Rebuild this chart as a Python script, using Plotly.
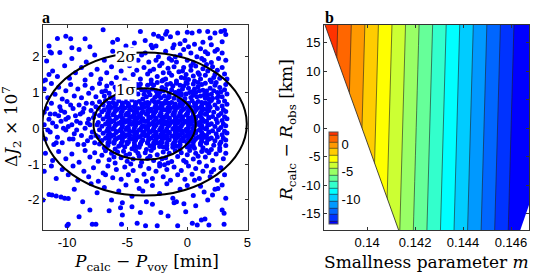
import plotly.graph_objects as go

# ---------------- Panel a: samples (P_calc - P_voy [min], dJ2 x 1e7) ----------------
top_pts = [(-10.8,2.51),(-10.1,2.57),(-9.7,2.50),(-8.5,2.50),(-7.0,2.75),(-6.2,2.40),(-5.8,2.48),(-4.4,2.38),
           (-3.9,2.70),(-3.5,2.45),(-2.8,2.63),(-2.4,2.57),(-2.1,2.51),(-1.8,2.63),(-1.7,2.70),(-1.4,2.56),
           (-0.8,2.66),(-0.6,2.36),(0.0,2.68),(0.4,2.66),(1.0,2.71),(1.7,2.70),(2.3,2.66),(2.8,2.70),
           (3.1,2.73),(3.2,2.62),(-11.5,2.30),(-8.1,2.28),(-5.1,2.30),(-3.0,2.32),(1.3,2.40),(2.0,2.33),
           (2.9,2.42),(0.6,2.35),(-0.2,2.45),(-1.1,2.33),(-2.6,2.30),(1.9,2.52),(-9.6,2.25),(-11.4,2.13)]

upper_pts = [(-11.3,2.10),(-10.6,2.12),(-9.6,1.95),(-9.0,2.20),(-8.4,1.85),(-7.7,2.05),(-6.9,1.90),(-6.2,2.15),
             (-5.6,1.88),(-5.0,2.02),(-4.6,2.20),(-4.1,1.90),(-3.5,2.10),(-3.2,1.85),(-2.9,2.25),(-2.4,2.00),
             (-2.1,1.82),(-1.8,2.15),(-1.5,1.95),(-1.2,2.25),(-0.9,1.85),(-0.6,2.05),(-0.3,2.20),(0.0,1.90),
             (0.3,2.10),(0.5,1.83),(0.8,2.00),(1.1,2.22),(1.4,1.90),(1.7,2.08),(2.0,1.84),(2.3,2.15),
             (2.6,1.95),(2.9,2.10),(3.2,1.90),(-1.0,2.00),(-2.6,1.90),(0.1,2.28),(1.5,2.14),(-3.8,2.05),
             (-11.7,1.88),(0.3,1.75),(1.2,1.95),(2.5,2.20),(-1.3,1.90)]

mid_pts = [(-11.8,1.35),(-11.2,1.60),(-10.8,1.45),(-10.2,1.75),(-9.8,1.40),(-9.3,1.55),(-8.8,1.70),(-8.5,1.35),
           (-8.0,1.50),(-7.5,1.65),(-7.2,1.38),(-6.7,1.55),(-6.3,1.72),(-5.9,1.42),(-5.5,1.60),(-5.2,1.35),
           (-4.8,1.75),(-4.5,1.50),(-4.2,1.62),(-3.9,1.38),(-3.6,1.70),(-3.3,1.52),(-3.0,1.35),(-2.8,1.65),
           (-2.5,1.45),(-2.3,1.75),(-2.0,1.55),(-1.8,1.38),(-1.6,1.68),(-1.3,1.48),(-1.1,1.72),(-0.9,1.32),
           (-0.7,1.58),(-0.5,1.42),(-0.3,1.70),(-0.1,1.50),(0.1,1.36),(0.3,1.62),(0.5,1.46),(0.7,1.74),
           (0.9,1.55),(1.1,1.38),(1.3,1.66),(1.5,1.48),(1.7,1.60),(1.9,1.35),(2.1,1.72),(2.3,1.50),
           (2.5,1.62),(2.7,1.40),(2.9,1.70),(3.1,1.52),(3.3,1.38),(-2.1,1.32),(-0.4,1.60),(0.6,1.32),
           (1.6,1.78),(-1.5,1.55),(-3.1,1.60),(2.2,1.42),(-11.5,1.50),(-12.0,1.32),
           (-2.0,1.35),(-0.2,1.40),(1.0,1.50),(2.0,1.30)]

shoulder_pts = [(-11.9,1.10),(-11.6,0.85),(-11.3,1.25),(-11.0,0.95),(-10.7,1.15),(-10.4,0.82),(-10.1,1.05),(-9.7,1.22),
                (-9.4,0.90),(-9.1,1.10),(-8.8,0.85),(-8.5,1.20),(-8.2,0.98),(-7.9,1.12),(-7.6,0.88),(-7.3,1.25),
                (-7.1,1.02),(-6.9,0.90),(-6.7,1.18),(-6.5,0.98),(-6.3,1.26),(-6.1,0.84),(-5.9,1.08),(-5.7,1.22),
                (-5.5,0.92),(-5.3,1.12),(-5.1,0.86),(-4.9,1.28),(-4.7,1.02),(-4.5,0.88),(-4.3,1.16),(-4.1,0.96),
                (-3.9,1.24),(-3.7,0.82),(-3.5,1.06),(-3.3,1.20),(-3.1,0.94),(-2.9,1.10),(-2.7,0.86),(-2.5,1.28),
                (-2.3,1.00),(-2.1,1.14),(-1.9,0.90),(-1.7,1.22),(-1.5,0.98),(-1.3,1.08),(-1.1,0.84),(-0.9,1.26),
                (-0.7,1.04),(-0.5,0.92),(-0.3,1.18),(-0.1,0.96),(0.1,1.12),(0.3,0.86),(0.5,1.24),(0.7,1.00),
                (0.9,1.16),(1.1,0.90),(1.3,1.06),(1.5,1.26),(1.7,0.94),(1.9,1.12),(2.1,0.84),(2.3,1.20),
                (2.5,1.00),(2.7,1.14),(2.9,0.88),(3.1,1.08),(3.3,0.96),(-6.8,1.05),(-6.4,0.86),(-6.0,1.15),
                (-5.6,1.00),(-5.2,1.25),(-4.8,0.93),(-4.4,1.05),(-4.0,1.15),(-3.6,0.95),(-3.2,1.02),(-2.8,1.20),
                (-2.4,0.90),(-2.0,1.05),(-1.6,0.85),(-1.2,1.18),(-0.8,0.95),(-0.4,1.10),(0.0,1.25),(0.4,1.02),
                (0.8,0.88),(1.2,1.22),(1.6,1.04),(2.0,0.95),(2.4,1.28),(2.8,1.02),(3.2,1.22),(-1.0,1.00),
                (-0.2,0.83),(0.6,1.10),(1.4,0.92),(2.2,1.05),(-1.8,1.10),(-2.6,1.05),(-3.4,0.88),(-4.2,1.22),
                (-5.0,1.05),(-5.8,0.95),(-2.2,0.85),(-1.4,1.25),(-0.6,1.20),(0.2,1.00),(1.0,1.05),(1.8,0.82),
                (2.6,0.90),(-3.0,1.25),(-3.8,1.08),(-4.6,1.20),(0.9,1.28),(-0.1,1.28),(1.5,0.84),
                (-2.5,0.95),(-1.5,0.88),(-0.5,0.97),(0.5,0.92),(1.5,0.97),(2.5,0.85)]

core_pts = [
    (-7.3,0.74),(-6.8,0.78),(-6.2,0.72),(-5.7,0.77),(-5.1,0.73),(-4.6,0.79),(-4.0,0.75),(-3.5,0.71),(-2.9,0.78),(-2.4,0.74),
    (-1.8,0.76),(-1.3,0.72),(-0.7,0.79),(-0.2,0.73),(0.4,0.77),(0.9,0.75),(1.5,0.71),(2.0,0.78),(2.6,0.74),(3.1,0.76),
    (-7.0,0.66),(-6.5,0.62),(-5.9,0.68),(-5.4,0.64),(-4.8,0.61),(-4.3,0.67),(-3.7,0.63),(-3.2,0.69),(-2.6,0.65),(-2.1,0.62),
    (-1.5,0.68),(-1.0,0.64),(-0.4,0.66),(0.1,0.61),(0.7,0.67),(1.2,0.63),(1.8,0.69),(2.3,0.65),(2.9,0.62),(3.3,0.67),
    (-7.4,0.56),(-6.9,0.52),(-6.3,0.58),(-5.8,0.54),(-5.2,0.57),(-4.7,0.51),(-4.1,0.55),(-3.6,0.59),(-3.0,0.53),(-2.5,0.57),
    (-1.9,0.52),(-1.4,0.56),(-0.8,0.58),(-0.3,0.54),(0.3,0.51),(0.8,0.57),(1.4,0.53),(1.9,0.59),(2.5,0.55),(3.0,0.52),
    (-7.1,0.46),(-6.6,0.42),(-6.0,0.48),(-5.5,0.44),(-4.9,0.41),(-4.4,0.47),(-3.8,0.43),(-3.3,0.49),(-2.7,0.45),(-2.2,0.41),
    (-1.6,0.47),(-1.1,0.44),(-0.5,0.48),(0.0,0.42),(0.6,0.46),(1.1,0.43),(1.7,0.49),(2.2,0.45),(2.8,0.41),(3.2,0.47),
    (-7.3,0.36),(-6.7,0.32),(-6.2,0.38),(-5.6,0.34),(-5.1,0.37),(-4.5,0.31),(-4.0,0.35),(-3.4,0.39),(-2.9,0.33),(-2.3,0.36),
    (-1.8,0.32),(-1.2,0.38),(-0.7,0.34),(-0.1,0.37),(0.4,0.31),(1.0,0.35),(1.5,0.39),(2.1,0.33),(2.6,0.36),(3.1,0.32),
    (-7.0,0.26),(-6.4,0.22),(-5.9,0.28),(-5.3,0.24),(-4.8,0.21),(-4.2,0.27),(-3.7,0.23),(-3.1,0.29),(-2.6,0.25),(-2.0,0.22),
    (-1.5,0.28),(-0.9,0.24),(-0.4,0.26),(0.2,0.21),(0.7,0.27),(1.3,0.23),(1.8,0.29),(2.4,0.25),(2.9,0.22),(3.3,0.27),
    (-7.4,0.16),(-6.8,0.12),(-6.3,0.18),(-5.7,0.14),(-5.2,0.17),(-4.6,0.11),(-4.1,0.15),(-3.5,0.19),(-3.0,0.13),(-2.4,0.16),
    (-1.9,0.12),(-1.3,0.18),(-0.8,0.14),(-0.2,0.17),(0.3,0.11),(0.9,0.15),(1.4,0.19),(2.0,0.13),(2.5,0.16),(3.0,0.12),
    (-7.1,0.06),(-6.5,0.02),(-6.0,0.08),(-5.4,0.04),(-4.9,0.01),(-4.3,0.07),(-3.8,0.03),(-3.2,0.09),(-2.7,0.05),(-2.1,0.02),
    (-1.6,0.08),(-1.0,0.04),(-0.5,0.06),(0.1,0.01),(0.6,0.07),(1.2,0.03),(1.7,0.09),(2.3,0.05),(2.8,0.02),(3.2,0.07),
    (-7.3,-0.04),(-6.7,-0.08),(-6.2,-0.02),(-5.6,-0.06),(-5.1,-0.03),(-4.5,-0.09),(-4.0,-0.05),(-3.4,-0.01),(-2.9,-0.07),(-2.3,-0.04),
    (-1.8,-0.08),(-1.2,-0.02),(-0.7,-0.06),(-0.1,-0.03),(0.4,-0.09),(1.0,-0.05),(1.5,-0.01),(2.1,-0.07),(2.6,-0.04),(3.1,-0.08),
    (-7.0,-0.14),(-6.4,-0.18),(-5.9,-0.12),(-5.3,-0.16),(-4.8,-0.19),(-4.2,-0.13),(-3.7,-0.17),(-3.1,-0.11),(-2.6,-0.15),(-2.0,-0.18),
    (-1.5,-0.12),(-0.9,-0.16),(-0.4,-0.14),(0.2,-0.19),(0.7,-0.13),(1.3,-0.17),(1.8,-0.11),(2.4,-0.15),(2.9,-0.18),(3.3,-0.13),
    (-7.4,-0.24),(-6.8,-0.28),(-6.3,-0.22),(-5.7,-0.26),(-5.2,-0.23),(-4.6,-0.29),(-4.1,-0.25),(-3.5,-0.21),(-3.0,-0.27),(-2.4,-0.24),
    (-1.9,-0.28),(-1.3,-0.22),(-0.8,-0.26),(-0.2,-0.23),(0.3,-0.29),(0.9,-0.25),(1.4,-0.21),(2.0,-0.27),(2.5,-0.24),(3.0,-0.28),
    (-7.1,-0.34),(-6.5,-0.38),(-6.0,-0.32),(-5.4,-0.36),(-4.9,-0.39),(-4.3,-0.33),(-3.8,-0.37),(-3.2,-0.31),(-2.7,-0.35),(-2.1,-0.38),
    (-1.6,-0.32),(-1.0,-0.36),(-0.5,-0.34),(0.1,-0.39),(0.6,-0.33),(1.2,-0.37),(1.7,-0.31),(2.3,-0.35),(2.8,-0.38),(3.2,-0.33),
    (-7.3,-0.44),(-6.6,-0.48),(-6.1,-0.42),(-5.5,-0.46),(-5.0,-0.43),(-4.4,-0.49),(-3.9,-0.45),(-3.3,-0.41),(-2.8,-0.47),(-2.2,-0.44),
    (-1.7,-0.48),(-1.1,-0.42),(-0.6,-0.46),(0.0,-0.43),(0.5,-0.49),(1.1,-0.45),(1.6,-0.41),(2.2,-0.47),(2.7,-0.44),(3.2,-0.48),
    (-6.9,-0.54),(-6.0,-0.58),(-5.2,-0.52),(-4.6,-0.57),(-4.0,-0.53),(-3.4,-0.59),(-2.8,-0.55),(-2.3,-0.51),(-1.7,-0.57),(-1.2,-0.53),
    (-0.6,-0.58),(0.0,-0.52),(0.6,-0.56),(1.3,-0.54),(2.0,-0.59),(2.7,-0.55),
    (-4.4,0.60),(-3.9,0.30),(-3.3,0.72),(-2.8,0.10),(-2.2,0.55),(-1.7,-0.20),(-1.1,0.40),(-0.6,0.68),(0.0,-0.10),(0.5,0.30),
    (-4.7,-0.30),(-3.6,-0.10),(-2.5,-0.40),(-1.4,0.15),(-0.3,-0.35),(0.8,0.55),(1.4,-0.25),(-5.0,0.20),(-4.2,0.45),(-3.0,0.48),
    (-2.0,0.28),(-0.9,0.00),(0.2,0.60),(-1.9,0.70),(-2.7,-0.20),(-3.5,0.05),(-4.5,0.35),(-1.2,-0.45),(-0.2,0.20),(1.0,0.10)]

dense_pts = [
    (-6.5,0.70),(-6.0,0.68),(-5.4,0.71),(-4.9,0.69),(-4.3,0.72),(-3.8,0.68),(-3.2,0.70),(-2.7,0.73),(-2.1,0.69),(-1.6,0.71),(-1.0,0.68),(-0.5,0.72),(0.1,0.70),(0.6,0.69),(1.2,0.72),(1.7,0.68),
    (-6.6,0.59),(-6.0,0.61),(-5.5,0.58),(-4.9,0.62),(-4.4,0.60),(-3.8,0.57),(-3.3,0.61),(-2.7,0.59),(-2.2,0.62),(-1.6,0.58),(-1.1,0.60),(-0.5,0.62),(0.0,0.59),(0.6,0.61),(1.1,0.58),(1.7,0.60),
    (-6.5,0.49),(-5.9,0.51),(-5.4,0.48),(-4.8,0.52),(-4.3,0.50),(-3.7,0.47),(-3.2,0.51),(-2.6,0.49),(-2.1,0.52),(-1.5,0.48),(-1.0,0.50),(-0.4,0.52),(0.1,0.49),(0.7,0.51),(1.2,0.48),(1.8,0.50),
    (-6.6,0.39),(-6.1,0.41),(-5.5,0.38),(-5.0,0.42),(-4.4,0.40),(-3.9,0.37),(-3.3,0.41),(-2.8,0.39),(-2.2,0.42),(-1.7,0.38),(-1.1,0.40),(-0.6,0.42),(0.0,0.39),(0.5,0.41),(1.1,0.38),(1.6,0.40),
    (-6.5,0.29),(-5.9,0.31),(-5.4,0.28),(-4.8,0.32),(-4.3,0.30),(-3.7,0.27),(-3.2,0.31),(-2.6,0.29),(-2.1,0.32),(-1.5,0.28),(-1.0,0.30),(-0.4,0.32),(0.1,0.29),(0.7,0.31),(1.2,0.28),(1.8,0.30),
    (-6.6,0.19),(-6.1,0.21),(-5.5,0.18),(-5.0,0.22),(-4.4,0.20),(-3.9,0.17),(-3.3,0.21),(-2.8,0.19),(-2.2,0.22),(-1.7,0.18),(-1.1,0.20),(-0.6,0.22),(0.0,0.19),(0.5,0.21),(1.1,0.18),(1.6,0.20),
    (-6.5,0.09),(-5.9,0.11),(-5.4,0.08),(-4.8,0.12),(-4.3,0.10),(-3.7,0.07),(-3.2,0.11),(-2.6,0.09),(-2.1,0.12),(-1.5,0.08),(-1.0,0.10),(-0.4,0.12),(0.1,0.09),(0.7,0.11),(1.2,0.08),(1.8,0.10),
    (-6.6,-0.01),(-6.1,0.01),(-5.5,-0.02),(-5.0,0.02),(-4.4,0.00),(-3.9,-0.03),(-3.3,0.01),(-2.8,-0.01),(-2.2,0.02),(-1.7,-0.02),(-1.1,0.00),(-0.6,0.02),(0.0,-0.01),(0.5,0.01),(1.1,-0.02),(1.6,0.00),
    (-6.5,-0.11),(-5.9,-0.09),(-5.4,-0.12),(-4.8,-0.08),(-4.3,-0.10),(-3.7,-0.13),(-3.2,-0.09),(-2.6,-0.11),(-2.1,-0.08),(-1.5,-0.12),(-1.0,-0.10),(-0.4,-0.08),(0.1,-0.11),(0.7,-0.09),(1.2,-0.12),(1.8,-0.10),
    (-6.6,-0.21),(-6.1,-0.19),(-5.5,-0.22),(-5.0,-0.18),(-4.4,-0.20),(-3.9,-0.23),(-3.3,-0.19),(-2.8,-0.21),(-2.2,-0.18),(-1.7,-0.22),(-1.1,-0.20),(-0.6,-0.18),(0.0,-0.21),(0.5,-0.19),(1.1,-0.22),(1.6,-0.20),
    (-6.5,-0.31),(-5.9,-0.29),(-5.4,-0.32),(-4.8,-0.28),(-4.3,-0.30),(-3.7,-0.33),(-3.2,-0.29),(-2.6,-0.31),(-2.1,-0.28),(-1.5,-0.32),(-1.0,-0.30),(-0.4,-0.28),(0.1,-0.31),(0.7,-0.29),(1.2,-0.32),(1.8,-0.30),
    (-6.6,-0.41),(-6.1,-0.39),(-5.5,-0.42),(-5.0,-0.38),(-4.4,-0.40),(-3.9,-0.43),(-3.3,-0.39),(-2.8,-0.41),(-2.2,-0.38),(-1.7,-0.42),(-1.1,-0.40),(-0.6,-0.38),(0.0,-0.41),(0.5,-0.39),(1.1,-0.42),(1.6,-0.40),
    (-5.7,-0.50),(-4.3,-0.51),(-3.1,-0.49),(-2.0,-0.52),(-0.9,-0.50),(0.3,-0.51)]

left_core_pts = [(-11.9,0.10),(-11.8,-0.30),(-11.7,0.55),(-11.5,0.25),(-11.4,-0.10),(-11.3,0.70),(-11.1,-0.45),(-11.0,0.40),
                 (-10.9,0.05),(-10.8,-0.25),(-10.6,0.60),(-10.5,0.20),(-10.4,-0.40),(-10.2,0.45),(-10.1,-0.05),(-10.0,0.75),
                 (-9.9,0.30),(-9.8,-0.30),(-9.6,0.10),(-9.5,0.55),(-9.4,-0.15),(-9.3,0.35),(-9.1,-0.45),(-9.0,0.65),
                 (-8.9,0.15),(-8.8,-0.20),(-8.7,0.45),(-8.5,0.00),(-8.4,0.70),(-8.3,-0.35),(-8.2,0.25),(-8.0,0.50),
                 (-7.9,-0.10),(-7.8,0.30),(-7.7,-0.40),(-7.6,0.60),(-7.5,0.10),(-11.6,-0.05),(-11.2,0.15),(-10.7,0.35),
                 (-10.3,0.00),(-9.7,0.65),(-9.2,0.20),(-8.6,-0.45),(-8.1,0.10),(-7.7,0.40),(-11.9,0.45),(-10.9,-0.40),
                 (-9.5,-0.30),(-8.6,0.55),(-8.0,-0.25),(-7.6,-0.20),(-11.4,0.40),(-10.5,0.50),(-9.9,0.05),(-8.9,0.40),
                 (-7.9,0.70),(-8.3,0.15),(-9.2,-0.05),(-10.1,0.25)]

low_pts = [(-11.8,-0.70),(-11.2,-0.90),(-10.7,-0.65),(-10.1,-0.85),(-9.6,-0.72),(-9.0,-0.95),(-8.5,-0.62),(-8.1,-0.80),
           (-7.7,-0.68),(-7.4,-0.92),(-7.1,-0.75),(-6.8,-0.63),(-6.5,-0.88),(-6.3,-0.70),(-6.0,-0.97),(-5.8,-0.66),
           (-5.5,-0.82),(-5.3,-0.64),(-5.0,-0.92),(-4.8,-0.72),(-4.5,-0.86),(-4.3,-0.62),(-4.0,-0.78),(-3.8,-0.95),
           (-3.5,-0.68),(-3.3,-0.84),(-3.0,-0.62),(-2.8,-0.90),(-2.5,-0.74),(-2.3,-0.98),(-2.0,-0.66),(-1.8,-0.82),
           (-1.5,-0.70),(-1.3,-0.93),(-1.0,-0.63),(-0.8,-0.79),(-0.5,-0.68),(-0.3,-0.90),(0.0,-0.74),(0.2,-0.62),
           (0.5,-0.86),(0.7,-0.70),(1.0,-0.95),(1.2,-0.65),(1.5,-0.80),(1.8,-0.68),(2.1,-0.90),(2.4,-0.72),
           (2.7,-0.62),(3.0,-0.85),(3.2,-0.70),(-6.1,-0.80),(-4.1,-0.70),(-2.1,-0.85),(-0.1,-0.95),(1.6,-0.62),
           (-3.1,-0.78),(-5.1,-0.75),(0.9,-0.78),(-1.6,-0.97)]

lower_pts = [(-11.9,-1.20),(-11.3,-1.05),(-10.9,-1.40),(-10.4,-1.15),(-9.9,-1.30),(-9.5,-1.05),(-9.1,-1.45),(-8.6,-1.20),
             (-8.2,-1.35),(-7.8,-1.10),(-7.4,-1.48),(-7.0,-1.25),(-6.6,-1.05),(-6.2,-1.38),(-5.9,-1.15),(-5.5,-1.42),
             (-5.2,-1.08),(-4.9,-1.30),(-4.5,-1.18),(-4.2,-1.46),(-3.9,-1.05),(-3.6,-1.28),(-3.2,-1.12),(-2.9,-1.40),
             (-2.6,-1.20),(-2.3,-1.05),(-2.0,-1.35),(-1.7,-1.15),(-1.4,-1.45),(-1.1,-1.08),(-0.8,-1.30),(-0.5,-1.18),
             (-0.2,-1.42),(0.1,-1.05),(0.4,-1.28),(0.7,-1.12),(1.0,-1.40),(1.3,-1.20),(1.6,-1.05),(1.9,-1.35),
             (2.2,-1.15),(2.5,-1.45),(2.8,-1.10),(3.1,-1.30),(-6.8,-1.30),(-4.7,-1.00),(-3.4,-1.48),(-1.9,-1.02),
             (0.6,-1.45),(2.0,-1.22)]

bottom_pts = [(-11.5,-1.85),(-10.2,-1.95),(-9.4,-1.70),(-8.7,-2.05),(-8.0,-1.55),(-7.5,-1.80),(-6.9,-1.65),
              (-6.3,-2.00),(-5.7,-1.75),(-5.1,-1.58),(-4.6,-1.90),(-4.0,-1.68),(-3.4,-2.05),(-2.9,-1.60),(-2.3,-1.82),
              (-1.7,-1.55),(-1.2,-1.95),(-0.6,-1.70),(0.0,-1.60),(0.5,-1.88),(1.1,-1.62),(1.7,-2.00),(2.3,-1.70),
              (2.9,-1.58),(3.2,-1.95),(-5.4,-2.08),(-0.9,-2.05),(1.4,-1.78),(-3.7,-1.75),
              (-12.0,-2.00),(-11.25,-1.86),(-10.9,-1.89),(-10.5,-1.92),(-9.9,-1.96),(-9.0,-2.47),(-8.1,-2.28),
              (-10.0,-2.72),(-9.9,-2.68),(-7.9,-2.68),(-7.6,-2.68),(-5.55,-2.22),(-5.4,-2.42),(-5.47,-2.68),
              (-4.17,-2.65),(-3.47,-2.72),(-2.5,-2.72),(-2.2,-2.35),(-2.9,-2.12),(-1.1,-2.08),(-0.8,-2.72),
              (-4.6,-2.19),(0.42,-2.65),(0.83,-2.70),(1.17,-2.56),(1.47,-2.53),(1.8,-2.70),(3.06,-2.68),
              (3.06,-2.37),(2.9,-2.28),(2.1,-1.86),(2.55,-1.68),(0.7,-2.16),(-0.13,-2.33),(-0.28,-2.11),
              (-6.5,-2.30),(-1.6,-2.45),(-3.9,-2.35)]

sample_groups = [top_pts, upper_pts, mid_pts, shoulder_pts, core_pts, dense_pts, left_core_pts,
                 low_pts, lower_pts, bottom_pts]
dP = [p for g in sample_groups for p, _ in g]
dJ2 = [q for g in sample_groups for _, q in g]

# confidence ellipses (centre and 1-sigma semi-axes)
ell_center = (-3.55, 0.12)
ell_sigma = (4.25, 1.0)
ell_levels = [1, 2]
ell_labels = {1: (-5.1, 1.07), 2: (-5.07, 2.0)}

a_xrange = [-12, 5.05]
a_yrange = [-2.84, 2.885]
a_xticks = [-10, -5, 0, 5]
a_yticks = [-2, -1, 0, 1, 2]

# ---------------- Panel b: contour of R_calc - R_obs ----------------
m_grid = [0.138, 0.140, 0.142, 0.144, 0.146, 0.147]
R_grid = [-19, 19]
z_vals = [[2.68, -1.53, -5.74, -9.95, -14.16, -16.27],   # R = -19
          [3.21, -1.00, -5.21, -9.42, -13.63, -15.74]]   # R = 19
level_start, level_end, level_size = -13.9, 1.57, 1.19
# validity boundary (left, no solution) and lower-right cut
edge_R = [20, -20]
edge_m = [0.13808, 0.14149]
cut_R = [-13.5, -18.0]
cut_m = [0.14675, 0.14638]

b_xrange = [0.1382, 0.14675]
b_yrange = [-17.9, 18.1]
b_xticks = [0.140, 0.142, 0.144, 0.146]
b_xticktext = ["0.14", "0.142", "0.144", "0.146"]
b_yticks = [-15, -10, -5, 0, 5, 10, 15]
cb_ticks = [0, -5, -10]

jet_sub = [[0.0, "rgb(0,0,255)"], [0.35714, "rgb(0,255,255)"],
           [0.71429, "rgb(255,255,0)"], [1.0, "rgb(255,51,0)"]]

W, H = 538, 280
TICKFONT = dict(family="Liberation Sans, Arial, sans-serif", size=13, color="black")
TITLEFONT = dict(family="DejaVu Serif, serif", size=17, color="black")

fig = go.Figure()

fig.add_trace(go.Scatter(x=dP, y=dJ2, mode="markers", xaxis="x", yaxis="y",
                         marker=dict(color="#0000ff", size=5.0, line=dict(width=0)),
                         hoverinfo="skip", showlegend=False))

fig.add_trace(go.Contour(x=m_grid, y=R_grid, z=z_vals, xaxis="x2", yaxis="y2",
                         colorscale=jet_sub,
                         contours=dict(start=level_start, end=level_end, size=level_size,
                                       coloring="fill", showlines=True),
                         line=dict(color="#202020", width=0.6),
                         hoverinfo="skip",
                         colorbar=dict(xref="container", yref="container",
                                       x=329 / W, xanchor="left", y=(H - 224) / H, yanchor="bottom",
                                       len=92, lenmode="pixels", thickness=9, xpad=0, ypad=0,
                                       outlinewidth=1, outlinecolor="#555555",
                                       tickvals=cb_ticks, ticktext=[str(v) for v in cb_ticks],
                                       ticks="", tickfont=TICKFONT)))

# white no-solution triangle
fig.add_trace(go.Scatter(x=[edge_m[0], edge_m[1], b_xrange[0] - 0.001, b_xrange[0] - 0.001],
                         y=[edge_R[0], edge_R[1], edge_R[1], edge_R[0]],
                         fill="toself", fillcolor="white", mode="lines", line=dict(width=0),
                         xaxis="x2", yaxis="y2", hoverinfo="skip", showlegend=False))
fig.add_trace(go.Scatter(x=edge_m, y=edge_R, mode="lines", line=dict(color="#202020", width=0.8),
                         xaxis="x2", yaxis="y2", hoverinfo="skip", showlegend=False))
fig.add_trace(go.Scatter(x=[cut_m[0], cut_m[1], b_xrange[1] + 0.001, b_xrange[1] + 0.001],
                         y=[cut_R[0], cut_R[1], cut_R[1], cut_R[0]],
                         fill="toself", fillcolor="white", mode="lines", line=dict(width=0),
                         xaxis="x2", yaxis="y2", hoverinfo="skip", showlegend=False))

# ellipses
for k in ell_levels:
    fig.add_shape(type="circle", xref="x", yref="y",
                  x0=ell_center[0] - k * ell_sigma[0], x1=ell_center[0] + k * ell_sigma[0],
                  y0=ell_center[1] - k * ell_sigma[1], y1=ell_center[1] + k * ell_sigma[1],
                  line=dict(color="black", width=2), layer="above")
    lx, ly = ell_labels[k]
    fig.add_annotation(x=lx, y=ly, xref="x", yref="y", text=f"{k}σ", showarrow=False,
                       bgcolor="white", borderpad=0,
                       font=dict(family="DejaVu Serif, serif", size=15, color="black"))

axis_common = dict(showgrid=False, zeroline=False, showline=True, linecolor="#333333", linewidth=1,
                   mirror="ticks", ticks="inside", ticklen=3, tickcolor="#333333",
                   tickfont=TICKFONT, automargin=False)
ydom = [1 - 230 / H, 1 - 25 / H]
fig.update_layout(
    width=W, height=H, margin=dict(l=0, r=0, t=0, b=0, autoexpand=False),
    paper_bgcolor="white", plot_bgcolor="white", showlegend=False,
    xaxis=dict(domain=[43 / W, 248 / W], range=a_xrange, tickvals=a_xticks,
               ticktext=[str(v) for v in a_xticks], anchor="y", **axis_common),
    yaxis=dict(domain=ydom, range=a_yrange, tickvals=a_yticks,
               ticktext=[str(v) for v in a_yticks], anchor="x", **axis_common),
    xaxis2=dict(domain=[324 / W, 529 / W], range=b_xrange, tickvals=b_xticks,
                ticktext=b_xticktext, anchor="y2", tickangle=0, **axis_common),
    yaxis2=dict(domain=ydom, range=b_yrange, tickvals=b_yticks,
                ticktext=[str(v) for v in b_yticks], anchor="x2", **axis_common),
)

def paper_ann(px, py, text, font, angle=0):
    fig.add_annotation(x=px / W, y=1 - py / H, xref="paper", yref="paper", text=text,
                       showarrow=False, xanchor="center", yanchor="middle",
                       textangle=angle, font=font)

paper_ann(146, 262, "<i>P</i><sub>calc</sub> − <i>P</i><sub>voy</sub> [min]", TITLEFONT)
paper_ann(12, 127, "Δ<i>J</i><sub>2</sub> × 10<sup>7</sup>", TITLEFONT, -90)
paper_ann(287, 130, "<i>R</i><sub>calc</sub> − <i>R</i><sub>obs</sub> [km]", TITLEFONT, -90)
paper_ann(427, 262, "Smallness parameter <i>m</i>", TITLEFONT)
LABELFONT = dict(family="Liberation Serif, serif", size=16, color="black")
paper_ann(46, 17, "<b>a</b>", LABELFONT)
paper_ann(329, 17, "<b>b</b>", LABELFONT)

fig.write_html("out.html", config={"displayModeBar": False},
               post_script="document.body.style.margin='0px';document.body.style.overflow='hidden';")
